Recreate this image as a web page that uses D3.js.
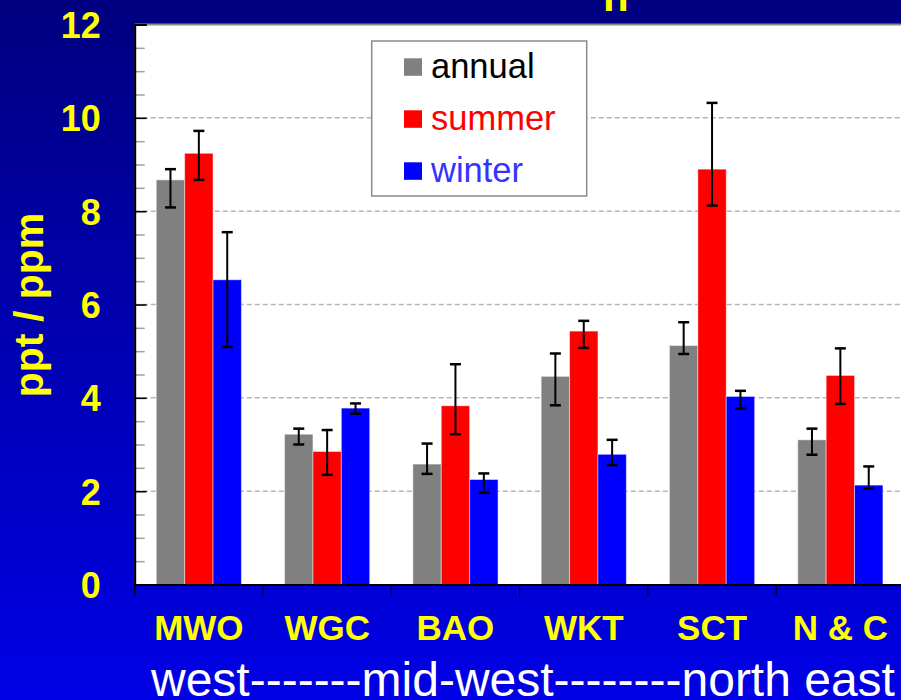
<!DOCTYPE html>
<html>
<head>
<meta charset="utf-8">
<script src="https://cdn.jsdelivr.net/npm/d3@7"></script>
<style>
  html, body { margin: 0; padding: 0; background: #000080; overflow: hidden; }
  svg { display: block; font-family: Arial, "Liberation Sans", sans-serif; }
</style>
</head>
<body>
<svg id="chart" width="901" height="700"></svg>
<script>
// Sites, west to north-east
const sites = ["MWO", "WGC", "BAO", "WKT", "SCT", "N & C"];
const seasons = ["annual", "summer", "winter"];

// Mean ratios (ppt / ppm) with lower / upper error bounds
const annual     = [8.67, 3.22, 2.58, 4.46, 5.12, 3.10];
const annualLow  = [8.08, 3.00, 2.37, 3.84, 4.94, 2.78];
const annualHigh = [8.90, 3.34, 3.02, 4.95, 5.62, 3.34];

const summer     = [9.24, 2.85, 3.83, 5.43, 8.90, 4.48];
const summerLow  = [8.67, 2.35, 3.22, 5.07, 8.12, 3.87];
const summerHigh = [9.72, 3.31, 4.72, 5.65, 10.32, 5.06];

const winter     = [6.53, 3.78, 2.25, 2.79, 4.03, 2.13];
const winterLow  = [5.09, 3.66, 1.97, 2.56, 3.77, 2.06];
const winterHigh = [7.55, 3.88, 2.38, 3.10, 4.15, 2.53];

const yMajorTicks = [0, 2, 4, 6, 8, 10, 12];
const yMinorTicks = d3.range(0, 12.01, 0.5);

const seasonColors = ["#808080", "#ff0000", "#0000ff"];
const legendTextColors = ["#000000", "#ff0000", "#3333ff"];

const seriesValues = { annual, summer, winter };
const seriesLow = { annual: annualLow, summer: summerLow, winter: winterLow };
const seriesHigh = { annual: annualHigh, summer: summerHigh, winter: winterHigh };

const rows = [];
sites.forEach((site, i) => {
  seasons.forEach((s, j) => {
    rows.push({ site, season: s, idx: j,
      value: seriesValues[s][i], low: seriesLow[s][i], high: seriesHigh[s][i] });
  });
});

const W = 901, H = 700;
const plot = { left: 134.7, right: 904.5, top: 24.5, bottom: 584.5 };

const svg = d3.select("#chart");

// Blue backdrop, darker at the top
const defs = svg.append("defs");
const grad = defs.append("linearGradient").attr("id", "bg")
  .attr("x1", 0).attr("y1", 0).attr("x2", 0).attr("y2", 1);
grad.append("stop").attr("offset", "0%").attr("stop-color", "#000080");
grad.append("stop").attr("offset", "100%").attr("stop-color", "#0000e6");
svg.append("rect").attr("width", W).attr("height", H).attr("fill", "url(#bg)");

// Title line (runs off the top edge)
svg.append("text")
  .attr("x", 603).attr("y", 10.7)
  .attr("fill", "#ffff00").attr("font-weight", "bold").attr("font-size", 42)
  .text("n");

const x0 = d3.scaleBand().domain(sites).range([plot.left, plot.right]).padding(0);
const x1 = d3.scaleBand().domain(seasons).range([0, x0.bandwidth()])
  .paddingInner(0).paddingOuter(0.76);
const y = d3.scaleLinear().domain([0, 12]).range([plot.bottom, plot.top]);

// Plot area
svg.append("rect")
  .attr("x", plot.left).attr("y", plot.top)
  .attr("width", plot.right - plot.left).attr("height", plot.bottom - plot.top)
  .attr("fill", "#ffffff");
svg.append("line")
  .attr("x1", plot.left).attr("x2", plot.right)
  .attr("y1", plot.top).attr("y2", plot.top)
  .attr("stroke", "#8a8a8a").attr("stroke-width", 2);

// Dashed gridlines
svg.append("g").selectAll("line")
  .data(yMajorTicks.filter(t => t > 0 && t < 12))
  .join("line")
  .attr("x1", plot.left).attr("x2", plot.right)
  .attr("y1", d => y(d)).attr("y2", d => y(d))
  .attr("stroke", "#b4b4b4").attr("stroke-width", 1.5)
  .attr("stroke-dasharray", "5,3");

// Bars
svg.append("g").selectAll("rect")
  .data(rows)
  .join("rect")
  .attr("x", d => x0(d.site) + x1(d.season))
  .attr("y", d => y(d.value))
  .attr("width", x1.bandwidth())
  .attr("height", d => y(0) - y(d.value))
  .attr("fill", d => seasonColors[d.idx])
  .attr("stroke", "rgba(255,255,255,0.45)")
  .attr("stroke-width", 1);

// Error bars
const eb = svg.append("g").attr("stroke", "#000").attr("fill", "none");
const cx = d => x0(d.site) + x1(d.season) + x1.bandwidth() / 2;
eb.selectAll("line.stem").data(rows).join("line").attr("class", "stem")
  .attr("x1", cx).attr("x2", cx)
  .attr("y1", d => y(d.low)).attr("y2", d => y(d.high))
  .attr("stroke-width", 2);
eb.selectAll("line.capHi").data(rows).join("line").attr("class", "capHi")
  .attr("x1", d => cx(d) - 5.5).attr("x2", d => cx(d) + 5.5)
  .attr("y1", d => y(d.high)).attr("y2", d => y(d.high))
  .attr("stroke-width", 2.5);
eb.selectAll("line.capLo").data(rows).join("line").attr("class", "capLo")
  .attr("x1", d => cx(d) - 5.5).attr("x2", d => cx(d) + 5.5)
  .attr("y1", d => y(d.low)).attr("y2", d => y(d.low))
  .attr("stroke-width", 2.5);

// Y axis: minor ticks (grey) and major ticks with labels
const yMinor = svg.append("g").attr("transform", `translate(${plot.left},0)`)
  .call(d3.axisLeft(y).tickValues(yMinorTicks).tickSize(-10).tickFormat(""));
yMinor.select(".domain").remove();
yMinor.selectAll(".tick line").attr("stroke", "#a0a0a0").attr("stroke-width", 1.5);

const yAxis = svg.append("g").attr("transform", `translate(${plot.left},0)`)
  .call(d3.axisLeft(y).tickValues(yMajorTicks).tickSize(-12).tickPadding(34)
    .tickFormat(d3.format("d")));
yAxis.select(".domain").attr("stroke", "#000").attr("stroke-width", 2);
yAxis.selectAll(".tick line").attr("stroke", "#000").attr("stroke-width", 1.5);
yAxis.selectAll(".tick text")
  .attr("fill", "#ffff00").attr("font-size", 36).attr("font-weight", "bold")
  .attr("font-family", "Arial, 'Liberation Sans', sans-serif")
  .attr("dy", "0.36em");

// X axis: labels at band centres, ticks at band edges
const xAxis = svg.append("g").attr("transform", `translate(0,${plot.bottom})`)
  .call(d3.axisBottom(x0).tickSize(0));
xAxis.select(".domain").attr("stroke", "#000").attr("stroke-width", 2);
xAxis.selectAll(".tick text")
  .attr("y", 55.5).attr("dy", 0)
  .attr("fill", "#ffff00").attr("font-size", 35).attr("font-weight", "bold")
  .attr("font-family", "Arial, 'Liberation Sans', sans-serif");
const edges = sites.map(s => x0(s)).concat([x0(sites[sites.length - 1]) + x0.bandwidth()]);
xAxis.append("g").selectAll("line").data(edges).join("line")
  .attr("x1", d => d).attr("x2", d => d)
  .attr("y1", 0).attr("y2", 11)
  .attr("stroke", "#000").attr("stroke-width", 1.2);

// Y axis title
svg.append("text")
  .attr("transform", `translate(43,${305}) rotate(-90)`)
  .attr("text-anchor", "middle")
  .attr("fill", "#ffff00").attr("font-size", 41).attr("font-weight", "bold")
  .text("ppt / ppm");

// Region caption under the axis
svg.append("text")
  .attr("x", 151).attr("y", 696)
  .attr("fill", "#ffffff").attr("font-size", 48)
  .text("west-------mid-west--------north east");

// Legend
const lg = svg.append("g");
lg.append("rect")
  .attr("x", 371.7).attr("y", 41).attr("width", 215).attr("height", 155)
  .attr("fill", "#ffffff").attr("stroke", "#8a8a8a").attr("stroke-width", 1.5);
const items = lg.selectAll("g.item").data(seasons).join("g").attr("class", "item")
  .attr("transform", (d, i) => `translate(404,${58.3 + i * 52})`);
items.append("rect")
  .attr("width", 18).attr("height", 17.5)
  .attr("fill", (d, i) => seasonColors[i]);
items.append("text")
  .attr("x", 27).attr("y", 19.3)
  .attr("fill", (d, i) => legendTextColors[i])
  .attr("font-size", 34.5)
  .text(d => d);
</script>
</body>
</html>
